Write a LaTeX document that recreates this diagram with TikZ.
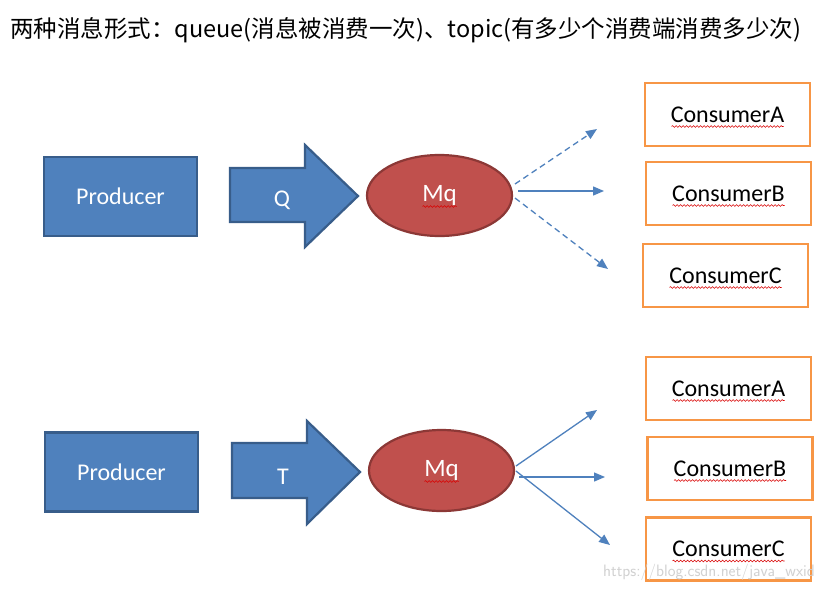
\documentclass[tikz,border=0pt]{standalone}
\usepackage{fontspec}
\setmainfont{Carlito}
\newfontfamily\cjk{Noto Sans CJK SC}
\usetikzlibrary{arrows.meta,decorations.pathmorphing,shapes.geometric,calc}
\definecolor{bfill}{HTML}{4F81BD}
\definecolor{bline}{HTML}{385D8A}
\definecolor{rfill}{HTML}{C0504D}
\definecolor{rline}{HTML}{8C3836}
\definecolor{obox}{HTML}{F79646}
\tikzset{
  prod/.style={draw=bline, fill=bfill, line width=2.2pt, minimum width=153pt, minimum height=79pt, inner sep=0pt, text=white, font=\fontsize{24}{24}\selectfont},
  fatarrow/.style={draw=bline, fill=bfill, line width=2.2pt, line join=miter},
  mqnode/.style={ellipse, draw=rline, fill=rfill, line width=2.2pt, minimum width=145pt, minimum height=81pt, inner sep=0pt, text=white, font=\fontsize{25}{25}\selectfont},
  cons/.style={draw=obox, line width=2.8pt, minimum width=165pt, minimum height=63pt, inner sep=0pt, font=\fontsize{24}{24}\selectfont},
  flow/.style={draw=bfill, line width=1.3pt, -{Triangle[length=11pt,width=9pt]}},
  flowd/.style={flow, dash pattern=on 6pt off 4pt},
  squig/.style={draw=red!85!black, line width=0.6pt, decorate, decoration={snake, amplitude=0.9pt, segment length=3.5pt}},
  lbl/.style={text=white, font=\fontsize{24}{24}\selectfont, inner sep=0pt}
}
\begin{document}
\begin{tikzpicture}[x=1pt,y=-1pt]
\useasboundingbox[fill=white] (0,0) rectangle (829,592);

% title
\node[anchor=west, inner sep=0pt] (title) at (10,30) {\cjk\fontsize{23.5}{23.5}\selectfont 两种消息形式：queue(消息被消费一次)、topic(有多少个消费端消费多少次)};

% ===== queue =====
\node[prod] (p1) at (120.5,196.5) {Producer};
\path[fatarrow] (230,168) -- (305,168) -- (305,145) -- (358,196) -- (305,247) -- (305,222) -- (230,222) -- cycle;
\node[lbl] (q) at (282,200) {Q};
\node[mqnode] (m1) at (439.5,195.5) {Mq};
\draw[squig] ($(m1.center)+(-17,11)$) -- ($(m1.center)+(17,11)$);

\node[cons] (c1a) at (727.5,114.5) {ConsumerA};
\node[cons] (c1b) at (728.5,193.5) {ConsumerB};
\node[cons] (c1c) at (725.5,275.5) {ConsumerC};
\foreach \n in {c1a,c1b,c1c}{
  \draw[squig] ($(\n.center)+(-56,12)$) -- ($(\n.center)+(56,12)$);
}

\coordinate (s1a) at (515,184);
\coordinate (s1b) at (518,191);
\coordinate (s1c) at (515,198);
\coordinate (e1a) at (597,129);
\coordinate (e1b) at (604,191);
\coordinate (e1c) at (608,269);
\draw[flowd] (s1a) -- (e1a);
\draw[flow] (s1b) -- (e1b);
\draw[flowd] (s1c) -- (e1c);

% ===== topic =====
\node[prod] (p2) at (121.5,472) {Producer};
\path[fatarrow] (232,443) -- (307,443) -- (307,421) -- (360,472) -- (307,524) -- (307,498) -- (232,498) -- cycle;
\node[lbl] (t) at (283,477) {T};
\node[mqnode] (m2) at (441.5,470.5) {Mq};
\draw[squig] ($(m2.center)+(-17,11)$) -- ($(m2.center)+(17,11)$);

\node[cons] (c2a) at (728.5,388.5) {ConsumerA};
\node[cons] (c2b) at (730,468.5) {ConsumerB};
\node[cons] (c2c) at (728.5,549) {ConsumerC};
\foreach \n in {c2a,c2b,c2c}{
  \draw[squig] ($(\n.center)+(-56,12)$) -- ($(\n.center)+(56,12)$);
}

\coordinate (s2a) at (516,466);
\coordinate (s2b) at (519,477);
\coordinate (s2c) at (516,471);
\coordinate (e2a) at (597,410);
\coordinate (e2b) at (605,477);
\coordinate (e2c) at (610,545);
\draw[flow] (s2a) -- (e2a);
\draw[flow] (s2b) -- (e2b);
\draw[flow] (s2c) -- (e2c);

% watermark
\node[anchor=west, inner sep=0pt, text=black!18, font=\fontsize{16.5}{16.5}\selectfont\sffamily] (wm) at (603,572) {https://blog.csdn.net/java\_wxid};
\end{tikzpicture}
\end{document}
